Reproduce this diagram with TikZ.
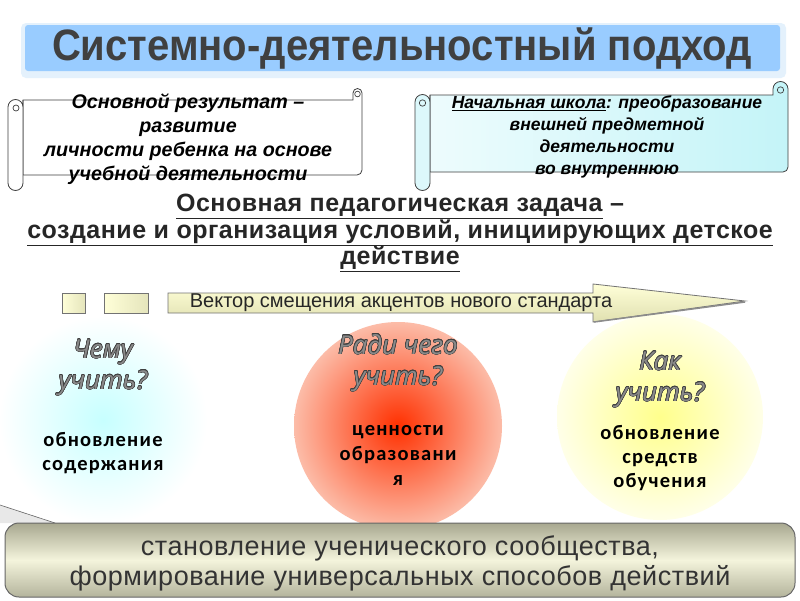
\documentclass[tikz,border=0pt]{standalone}
\usepackage{fontspec}
\usepackage{contour}
\setmainfont{Liberation Sans}
\newfontfamily\narrowfont{Liberation Sans}[LetterSpace=2]
\newfontfamily\taskfont{Liberation Sans}[LetterSpace=2]
\newfontfamily\titlefont{Liberation Sans}[FakeStretch=0.91]
\newfontfamily\circfont{Carlito}[LetterSpace=6]
\newfontfamily\qfont{Open Sans}
\contourlength{0.55pt}
\definecolor{titlebg}{HTML}{99CCFF}
\definecolor{titleglow}{HTML}{E4F1FC}
\definecolor{txtgray}{HTML}{404040}
\definecolor{scrollcyan}{HTML}{C4F4F8}
\definecolor{arrowA}{HTML}{FFFFD8}
\definecolor{arrowB}{HTML}{E0E0B0}
\definecolor{boxtop}{HTML}{A8A890}
\definecolor{boxmid}{HTML}{F4F4DC}
\definecolor{boxbot}{HTML}{B4B49C}
\definecolor{qfill}{HTML}{8A8A8A}
\begin{document}
\begin{tikzpicture}[x=1pt,y=-1pt,
  scrollline/.style={draw=black!75, line width=0.8pt},
  scrolltext/.style={font=\bfseries\itshape, align=center, inner sep=0pt},
  circtext/.style={font=\circfont\bfseries\fontsize{20.5}{24}\selectfont, align=center, inner sep=0pt},
  qtext/.style={font=\qfont\itshape\fontsize{26}{31}\selectfont, align=center, inner sep=0pt},
  smallrect/.style={draw=black!55, line width=0.7pt, left color=arrowA, right color=arrowB!85}
]
\useasboundingbox (0,0) rectangle (800,600);
\fill[white] (0,0) rectangle (800,600);

% title
\fill[titleglow, rounded corners=5] (21,23) rectangle (786,78);
\fill[titlebg, rounded corners=3] (25,25) rectangle (780,71);
\node[font=\titlefont\bfseries\fontsize{44}{46}\selectfont, text=txtgray, inner sep=0pt] (title) at (402,49) {Системно-деятельностный подход};

% left scroll
\path[scrollline, fill=white] (23,100) -- (353,100) -- (353,93) arc(180:360:4.5) -- (362,170) arc(0:90:5) -- (23,175) -- cycle;
\path[scrollline, fill=white] (23,100) -- (23,183) arc(0:180:7.5) -- (8,107) arc(180:360:7.5);
\draw[black!75, line width=0.7pt] (16,108) circle (3);
\draw[black!75, line width=0.7pt] (357.5,94) circle (2.8);
\node[scrolltext, font=\bfseries\itshape\fontsize{19.7}{24}\selectfont] (res) at (188,139)
  {Основной результат –\\развитие\\личности ребенка на основе\\учебной деятельности};

% right scroll
\path[scrollline, left color=white!70!scrollcyan, right color=scrollcyan] (430,95) -- (773,95) -- (773,89) arc(180:360:7.5) -- (788,167) arc(0:90:5) -- (430,172) -- cycle;
\path[scrollline, fill=scrollcyan!60] (430,95) -- (430,183) arc(0:180:7.5) -- (415,102) arc(180:360:7.5);
\draw[black!75, line width=0.7pt] (422.5,103) circle (3.2);
\draw[black!75, line width=0.7pt] (780.5,90) circle (3.2);
\node[scrolltext, font=\bfseries\itshape\fontsize{17.5}{22}\selectfont] (school) at (607,137)
  {\underline{Начальная школа}: преобразование\\внешней предметной\\деятельности\\во внутреннюю};

% task text
\node[font=\taskfont\bfseries\fontsize{25}{24}\selectfont, align=center, inner sep=0pt, text=black!85] (task) at (400,233)
  {\underline{Основная педагогическая задача} –\\\underline{создание и организация условий, инициирующих детское}\\\underline{действие}};

% hatched corner
\fill[gray!18] (0,505) -- (55,523) -- (0,523) -- cycle;
\draw[black!60, line width=0.6pt] (0,505) -- (55,523);

% circles
\shade[inner color=cyan!22, outer color=white] (103,420) circle (104);
\shade[inner color={rgb,255:red,255;green,48;blue,0}, outer color={rgb,255:red,252;green,188;blue,168}] (398,426) circle (104);
\shade[inner color={rgb,255:red,255;green,255;blue,140}, outer color={rgb,255:red,255;green,255;blue,232}] (660,417) circle (103);

\node[qtext] (q1) at (103,368) {\contour{black!75}{\textcolor{qfill}{Чему}}\\\contour{black!75}{\textcolor{qfill}{учить?}}};
\node[circtext] (a1) at (103,453) {обновление\\содержания};
\node[qtext] (q2) at (398,363) {\contour{black!75}{\textcolor{qfill}{Ради чего}}\\\contour{black!75}{\textcolor{qfill}{учить?}}};
\node[circtext, font=\circfont\bfseries\fontsize{20.5}{25}\selectfont] (a2) at (398,455) {ценности\\образовани\\я};
\node[qtext] (q3) at (660,380) {\contour{black!75}{\textcolor{qfill}{Как}}\\\contour{black!75}{\textcolor{qfill}{учить?}}};
\node[circtext] (a3) at (660,458) {обновление\\средств\\обучения};

% arrow
\path[smallrect] (62,293) rectangle (85,313);
\path[smallrect] (104,293) rectangle (148,313);
\path[draw=black!55, line width=0.8pt, top color=arrowA, bottom color=arrowB]
  (168,293) -- (593,293) -- (593,284) -- (745,301) -- (593,322) -- (593,313) -- (168,313) -- cycle;
\draw[black!45, line width=1.5pt] (594,322) -- (745,302);
\node[font=\fontsize{20}{22}\selectfont, inner sep=0pt, text=black!85] (vec) at (401,303) {Вектор смещения акцентов нового стандарта};

% bottom box
\path[draw=black!60, line width=1pt, rounded corners=14, top color=boxtop, bottom color=boxbot, middle color=boxmid]
  (5,523) rectangle (795,597);
\node[font=\narrowfont\fontsize{27}{30}\selectfont, align=center, inner sep=0pt, text=black!80] (res2) at (400,563)
  {становление ученического сообщества,\\формирование универсальных способов действий};
\end{tikzpicture}
\end{document}
